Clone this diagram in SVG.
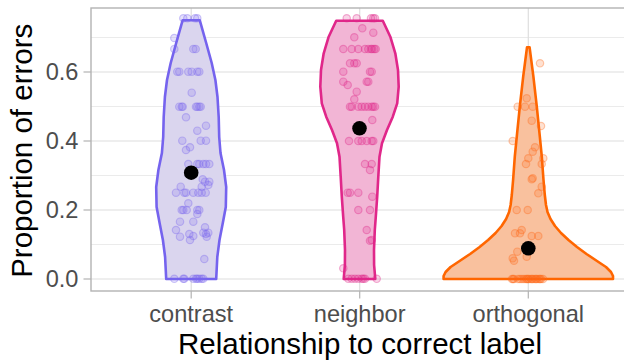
<svg xmlns="http://www.w3.org/2000/svg" width="624" height="360" viewBox="0 0 624 360">
<style>
.bg{fill:#FFFFFF}
.gmaj{stroke:#DEDEDE;stroke-width:1.2;fill:none}
.gmin{stroke:#DEDEDE;stroke-width:0.6;fill:none}
.border{stroke:#B3B3B3;stroke-width:1.4;fill:none}
.tick{stroke:#B3B3B3;stroke-width:1.2}
.tl{font-family:"Liberation Sans",Arial,sans-serif;font-size:23.6px;fill:#4D4D4D}
.title{font-family:"Liberation Sans",Arial,sans-serif;font-size:29.5px;fill:#000000}
.vio{stroke-width:2.6;stroke-linejoin:round}
.v1{fill:#DAD5EE;stroke:#7563EE}
.v2{fill:#F2B5D5;stroke:#E0278A}
.v3{fill:#F9C19E;stroke:#FF6600}
.p1 circle{fill:#7B68EE;fill-opacity:0.2;stroke:#7B68EE;stroke-opacity:0.35;stroke-width:1.2}
.p2 circle{fill:#E0278A;fill-opacity:0.2;stroke:#E0278A;stroke-opacity:0.35;stroke-width:1.2}
.p3 circle{fill:#FF6A1A;fill-opacity:0.2;stroke:#FF6A1A;stroke-opacity:0.35;stroke-width:1.2}
.mean{fill:#000000}
</style>
<rect class="bg" x="0" y="0" width="624" height="360"/>
<g id="grid">
<line class="gmin" x1="91" y1="244.5" x2="624" y2="244.5"/>
<line class="gmin" x1="91" y1="175.5" x2="624" y2="175.5"/>
<line class="gmin" x1="91" y1="106.5" x2="624" y2="106.5"/>
<line class="gmin" x1="91" y1="37.5" x2="624" y2="37.5"/>
<line class="gmaj" x1="91" y1="279" x2="624" y2="279"/>
<line class="gmaj" x1="91" y1="210" x2="624" y2="210"/>
<line class="gmaj" x1="91" y1="141" x2="624" y2="141"/>
<line class="gmaj" x1="91" y1="72" x2="624" y2="72"/>
<line class="gmaj" x1="191.2" y1="8" x2="191.2" y2="291"/>
<line class="gmaj" x1="359.7" y1="8" x2="359.7" y2="291"/>
<line class="gmaj" x1="528.3" y1="8" x2="528.3" y2="291"/>
</g>
<g id="violin-contrast">
<path class="vio v1" d="M182.6,20.3 L199.8,20.3 L206.2,43 L211.7,63 L215.4,80 L217.5,97 L218.7,117 L219.2,137 L220.5,153 L224,170 L226.2,187 L225.8,207 L222.8,223 L219.5,240 L217.3,257 L216.2,279 L166.2,279 L165.1,257 L162.9,240 L159.6,223 L156.6,207 L156.2,187 L158.4,170 L161.9,153 L163.2,137 L163.7,117 L164.9,97 L167,80 L170.7,63 L176.2,43 Z"/>
</g>
<g id="violin-neighbor">
<path class="vio v2" d="M336.2,20.7 L382.8,20.7 L390.3,36.7 L395.3,53.3 L398,70 L398.7,86.7 L397.2,103.3 L392.8,116.7 L387,130 L382,143.3 L379.5,156.7 L378.3,176.7 L377.2,196.7 L375.8,216.7 L374.8,230 L374,250 L374.1,265 L375.3,279 L343.7,279 L344.9,265 L345,250 L344.2,230 L343.2,216.7 L341.8,196.7 L340.7,176.7 L339.5,156.7 L337,143.3 L332,130 L326.2,116.7 L321.8,103.3 L320.3,86.7 L321,70 L323.7,53.3 L328.7,36.7 Z"/>
</g>
<g id="violin-orthogonal">
<path class="vio v3" d="M527,47.3 L529.6,47.3 L533.4,76.7 L536.8,106.7 L539.5,133.3 L541.8,156.7 L543.5,180 L544.8,195 L546,205 L547.5,212 L550.5,219 L555,226 L561,233 L568.5,240 L577,247 L586.5,254 L597,261 L606,267 L611,272 L613,276 L613,279 L443.6,279 L443.6,276 L445.6,272 L450.6,267 L459.6,261 L470.1,254 L479.6,247 L488.1,240 L495.6,233 L501.6,226 L506.1,219 L509.1,212 L510.6,205 L511.8,195 L513.1,180 L514.8,156.7 L517.1,133.3 L519.8,106.7 L523.2,76.7 Z"/>
</g>
<g id="points-contrast" class="p1">
<circle cx="183.3" cy="18.3" r="3.7"/><circle cx="187.3" cy="18.3" r="3.7"/><circle cx="195" cy="18.3" r="3.7"/><circle cx="197.3" cy="18.3" r="3.7"/>
<circle cx="174.3" cy="38" r="3.7"/><circle cx="174.3" cy="49" r="3.7"/><circle cx="193.3" cy="49" r="3.7"/><circle cx="195.7" cy="49" r="3.7"/>
<circle cx="177.3" cy="71.7" r="3.7"/><circle cx="179.3" cy="71.7" r="3.7"/><circle cx="188.3" cy="71.7" r="3.7"/><circle cx="191.7" cy="71.7" r="3.7"/><circle cx="197.3" cy="71.7" r="3.7"/><circle cx="199.3" cy="71.7" r="3.7"/>
<circle cx="191.7" cy="92.7" r="3.7"/>
<circle cx="179.3" cy="106.7" r="3.7"/><circle cx="181.7" cy="106.7" r="3.7"/><circle cx="182.7" cy="106.7" r="3.7"/><circle cx="196" cy="106.7" r="3.7"/><circle cx="197.3" cy="106.7" r="3.7"/><circle cx="199.3" cy="106.7" r="3.7"/><circle cx="200.7" cy="106.7" r="3.7"/>
<circle cx="186" cy="117.3" r="3.7"/><circle cx="197.3" cy="130.7" r="3.7"/><circle cx="206" cy="125.7" r="3.7"/>
<circle cx="182.3" cy="140.7" r="3.7"/><circle cx="200.7" cy="140.7" r="3.7"/><circle cx="206" cy="140.7" r="3.7"/>
<circle cx="186" cy="150" r="3.7"/><circle cx="190" cy="147.3" r="3.7"/>
<circle cx="188.3" cy="164" r="3.7"/><circle cx="197.3" cy="164" r="3.7"/><circle cx="199.3" cy="164" r="3.7"/><circle cx="203.3" cy="164" r="3.7"/><circle cx="206" cy="164" r="3.7"/><circle cx="209.3" cy="164" r="3.7"/>
<circle cx="202.7" cy="179.3" r="3.7"/><circle cx="205" cy="181.7" r="3.7"/><circle cx="209.3" cy="181.7" r="3.7"/><circle cx="208.3" cy="185" r="3.7"/>
<circle cx="180.7" cy="186.7" r="3.7"/><circle cx="201.7" cy="186.7" r="3.7"/>
<circle cx="176" cy="192.7" r="3.7"/><circle cx="184.3" cy="192.7" r="3.7"/><circle cx="186" cy="192.7" r="3.7"/><circle cx="193.3" cy="192.7" r="3.7"/><circle cx="198.3" cy="192.7" r="3.7"/><circle cx="201.7" cy="192.7" r="3.7"/><circle cx="205.7" cy="192.7" r="3.7"/>
<circle cx="188.3" cy="203.3" r="3.7"/><circle cx="181.7" cy="210" r="3.7"/><circle cx="183.3" cy="210" r="3.7"/><circle cx="186.7" cy="210" r="3.7"/><circle cx="197.3" cy="210" r="3.7"/><circle cx="199.3" cy="210" r="3.7"/>
<circle cx="197.3" cy="214" r="3.7"/><circle cx="180" cy="221.7" r="3.7"/><circle cx="193.3" cy="221.7" r="3.7"/>
<circle cx="176" cy="230" r="3.7"/><circle cx="180" cy="236.7" r="3.7"/><circle cx="189.3" cy="234" r="3.7"/><circle cx="190" cy="240" r="3.7"/><circle cx="193.3" cy="236" r="3.7"/><circle cx="203.3" cy="232.7" r="3.7"/><circle cx="206" cy="234" r="3.7"/><circle cx="206.7" cy="236.7" r="3.7"/><circle cx="208.3" cy="232.7" r="3.7"/><circle cx="205" cy="227.3" r="3.7"/>
<circle cx="204.3" cy="259" r="3.7"/>
<circle cx="174.3" cy="278.8" r="3.7"/><circle cx="183.3" cy="278.8" r="3.7"/><circle cx="184.3" cy="278.8" r="3.7"/><circle cx="193.3" cy="278.8" r="3.7"/><circle cx="196" cy="278.8" r="3.7"/><circle cx="197.3" cy="278.8" r="3.7"/><circle cx="199.3" cy="278.8" r="3.7"/><circle cx="201.7" cy="278.8" r="3.7"/><circle cx="203.3" cy="278.8" r="3.7"/>
</g>
<g id="points-neighbor" class="p2">
<circle cx="346.7" cy="18.3" r="3.7"/><circle cx="356.7" cy="18.3" r="3.7"/><circle cx="371" cy="18.3" r="3.7"/><circle cx="373.3" cy="18.3" r="3.7"/><circle cx="375" cy="18.3" r="3.7"/>
<circle cx="362.3" cy="28.3" r="3.7"/><circle cx="373.3" cy="32.7" r="3.7"/><circle cx="354.3" cy="37.3" r="3.7"/>
<circle cx="343.3" cy="49" r="3.7"/><circle cx="351.7" cy="49" r="3.7"/><circle cx="358.3" cy="49" r="3.7"/><circle cx="365" cy="49" r="3.7"/><circle cx="368.3" cy="49" r="3.7"/><circle cx="371" cy="49" r="3.7"/><circle cx="372.3" cy="49" r="3.7"/><circle cx="374.3" cy="49" r="3.7"/><circle cx="375.7" cy="49" r="3.7"/>
<circle cx="350" cy="63.3" r="3.7"/><circle cx="354.3" cy="63.3" r="3.7"/><circle cx="356.7" cy="63.3" r="3.7"/>
<circle cx="343.3" cy="71.7" r="3.7"/><circle cx="370" cy="71.7" r="3.7"/><circle cx="371.7" cy="71.7" r="3.7"/>
<circle cx="343.3" cy="81.7" r="3.7"/><circle cx="347.7" cy="85" r="3.7"/><circle cx="366.7" cy="81.7" r="3.7"/><circle cx="368.3" cy="81.7" r="3.7"/>
<circle cx="356.7" cy="91.7" r="3.7"/><circle cx="354.3" cy="99.3" r="3.7"/>
<circle cx="350" cy="106.7" r="3.7"/><circle cx="351.7" cy="106.7" r="3.7"/><circle cx="358.3" cy="106.7" r="3.7"/><circle cx="361.7" cy="106.7" r="3.7"/><circle cx="365" cy="106.7" r="3.7"/><circle cx="368.3" cy="106.7" r="3.7"/><circle cx="371.7" cy="106.7" r="3.7"/><circle cx="373.3" cy="106.7" r="3.7"/><circle cx="375" cy="106.7" r="3.7"/>
<circle cx="372.3" cy="120" r="3.7"/>
<circle cx="349" cy="141" r="3.7"/><circle cx="358.3" cy="141" r="3.7"/><circle cx="361.7" cy="141" r="3.7"/><circle cx="366.7" cy="141" r="3.7"/><circle cx="371.7" cy="141" r="3.7"/><circle cx="373.3" cy="141" r="3.7"/>
<circle cx="365" cy="164" r="3.7"/><circle cx="371.7" cy="164" r="3.7"/><circle cx="370" cy="170" r="3.7"/>
<circle cx="347.7" cy="192.7" r="3.7"/><circle cx="350" cy="192.7" r="3.7"/><circle cx="358.3" cy="192.7" r="3.7"/><circle cx="372.3" cy="196.7" r="3.7"/>
<circle cx="358.3" cy="210" r="3.7"/><circle cx="370" cy="210" r="3.7"/>
<circle cx="366.7" cy="230" r="3.7"/><circle cx="370" cy="240.7" r="3.7"/><circle cx="371.7" cy="240" r="3.7"/>
<circle cx="343.3" cy="268.3" r="3.7"/>
<circle cx="348.3" cy="278.8" r="3.7"/><circle cx="351.7" cy="278.8" r="3.7"/><circle cx="355" cy="278.8" r="3.7"/><circle cx="358.3" cy="278.8" r="3.7"/><circle cx="361.7" cy="278.8" r="3.7"/><circle cx="363.3" cy="278.8" r="3.7"/><circle cx="365" cy="278.8" r="3.7"/><circle cx="376.7" cy="278.8" r="3.7"/>
</g>
<g id="points-orthogonal" class="p3">
<circle cx="540" cy="63.3" r="3.7"/>
<circle cx="526.7" cy="98.3" r="3.7"/><circle cx="517.7" cy="106.7" r="3.7"/><circle cx="525" cy="106.7" r="3.7"/><circle cx="532.7" cy="106.7" r="3.7"/>
<circle cx="531.7" cy="120.7" r="3.7"/><circle cx="541" cy="126" r="3.7"/>
<circle cx="512.7" cy="141" r="3.7"/><circle cx="535" cy="147.3" r="3.7"/><circle cx="532.7" cy="151.7" r="3.7"/><circle cx="528.3" cy="158.3" r="3.7"/><circle cx="543.3" cy="158.3" r="3.7"/><circle cx="526" cy="164" r="3.7"/><circle cx="541.7" cy="164" r="3.7"/>
<circle cx="531.7" cy="179.3" r="3.7"/><circle cx="532.7" cy="178.3" r="3.7"/><circle cx="541.7" cy="186.7" r="3.7"/><circle cx="538.3" cy="193.3" r="3.7"/>
<circle cx="516.7" cy="210" r="3.7"/><circle cx="527.7" cy="210" r="3.7"/>
<circle cx="515" cy="233.3" r="3.7"/><circle cx="521.7" cy="230" r="3.7"/><circle cx="520" cy="233.3" r="3.7"/><circle cx="531.7" cy="236" r="3.7"/><circle cx="538.3" cy="236" r="3.7"/>
<circle cx="517.3" cy="251.7" r="3.7"/><circle cx="526.7" cy="256.7" r="3.7"/><circle cx="512.7" cy="258.3" r="3.7"/><circle cx="514" cy="260.7" r="3.7"/>
<circle cx="512" cy="279" r="3.7"/><circle cx="513" cy="279" r="3.7"/><circle cx="514" cy="279" r="3.7"/><circle cx="520" cy="279" r="3.7"/><circle cx="522" cy="279" r="3.7"/><circle cx="524" cy="279" r="3.7"/><circle cx="526" cy="279" r="3.7"/><circle cx="528" cy="279" r="3.7"/><circle cx="529" cy="279" r="3.7"/><circle cx="531" cy="279" r="3.7"/><circle cx="533" cy="279" r="3.7"/><circle cx="535" cy="279" r="3.7"/><circle cx="537" cy="279" r="3.7"/><circle cx="539" cy="279" r="3.7"/><circle cx="541" cy="279" r="3.7"/><circle cx="543" cy="279" r="3.7"/>
<circle cx="518" cy="279" r="3.7"/><circle cx="527" cy="279" r="3.7"/><circle cx="532" cy="279" r="3.7"/><circle cx="536" cy="279" r="3.7"/><circle cx="540" cy="279" r="3.7"/>
</g>
<g id="means">
<circle class="mean" cx="191.2" cy="172.7" r="7.3"/>
<circle class="mean" cx="359.5" cy="128.3" r="7.3"/>
<circle class="mean" cx="528.3" cy="248.3" r="7.3"/>
</g>
<g id="axes">
<rect class="border" x="91" y="8" width="545" height="283"/>
<line class="tick" x1="83.5" y1="279" x2="91" y2="279"/>
<line class="tick" x1="83.5" y1="210" x2="91" y2="210"/>
<line class="tick" x1="83.5" y1="141" x2="91" y2="141"/>
<line class="tick" x1="83.5" y1="72" x2="91" y2="72"/>
<line class="tick" x1="191.2" y1="291" x2="191.2" y2="298.5"/>
<line class="tick" x1="359.7" y1="291" x2="359.7" y2="298.5"/>
<line class="tick" x1="528.3" y1="291" x2="528.3" y2="298.5"/>
<text class="tl" x="78.5" y="287.4" text-anchor="end">0.0</text>
<text class="tl" x="78.5" y="218.4" text-anchor="end">0.2</text>
<text class="tl" x="78.5" y="149.4" text-anchor="end">0.4</text>
<text class="tl" x="78.5" y="80.4" text-anchor="end">0.6</text>
<text class="tl" x="191.2" y="321.5" text-anchor="middle">contrast</text>
<text class="tl" x="359.7" y="321.5" text-anchor="middle">neighbor</text>
<text class="tl" x="528.3" y="321.5" text-anchor="middle">orthogonal</text>
<text class="title" x="360" y="353.5" text-anchor="middle">Relationship to correct label</text>
<text class="title" transform="translate(31.7,150.8) rotate(-90)" text-anchor="middle">Proportion of errors</text>
</g>
</svg>
